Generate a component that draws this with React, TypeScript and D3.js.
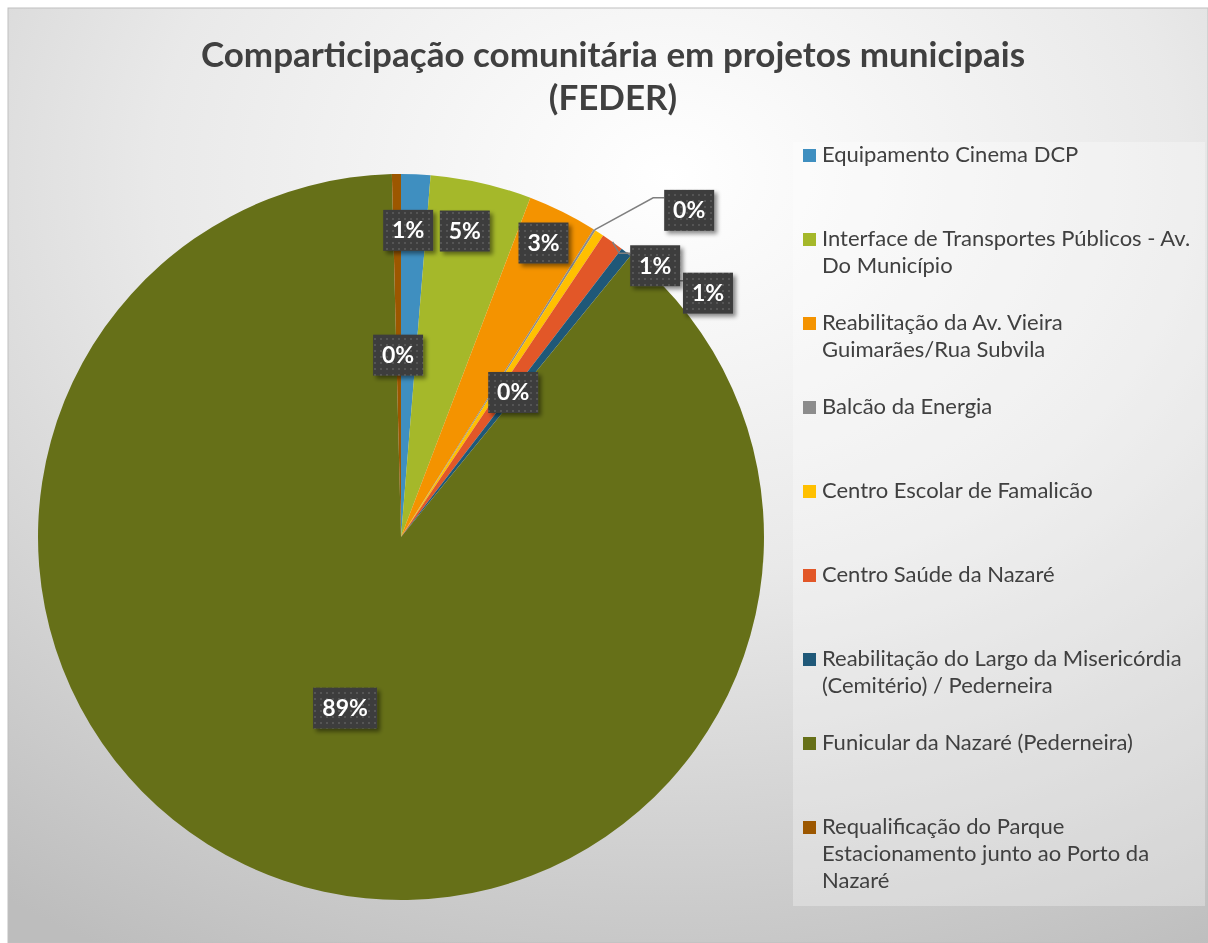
import React from 'react';
import * as d3 from 'd3';

const categories = [
  'Equipamento Cinema DCP',
  'Interface de Transportes Públicos - Av.\nDo Município',
  'Reabilitação da Av. Vieira\nGuimarães/Rua Subvila',
  'Balcão da Energia',
  'Centro Escolar de Famalicão',
  'Centro Saúde da Nazaré',
  'Reabilitação do Largo da Misericórdia\n(Cemitério) / Pederneira',
  'Funicular da Nazaré (Pederneira)',
  'Requalificação do Parque\nEstacionamento junto ao Porto da\nNazaré',
];
const shares = [1.3, 4.5, 3.1, 0.1, 0.4, 1.0, 0.5, 88.7, 0.4];
const colors = ['#3F8FC0', '#A5B82A', '#F49300', '#8C8C8C', '#FFC000', '#E25728', '#1F5878', '#667018', '#9C5700'];
const titleLines = ['Comparticipação comunitária em projetos municipais', '(FEDER)'];

// label layout: radius ratio and angular shift (deg) from slice mid; leader = outside label
const labelLayout = [
  { ratio: 0.845, shift: -1.0, leader: false },
  { ratio: 0.861, shift: -1.0, leader: false },
  { ratio: 0.9, shift: -0.6, leader: false },
  { ratio: 1.2, shift: 9.2, leader: true },
  { ratio: 0.504, shift: 4.7, leader: false },
  { ratio: 1.024, shift: 7.5, leader: true },
  { ratio: 1.08, shift: 13.2, leader: true },
  { ratio: 0.496, shift: -0.8, leader: false },
  { ratio: 0.501, shift: -0.2, leader: false },
];

const W = 1208, H = 943;
const cx = 401, cy = 537, R = 363;

export default function App() {
  const total = d3.sum(shares);
  const pie = d3.pie<number>().sort(null).value((d) => d).startAngle(0).endAngle(2 * Math.PI);
  const arcs = pie(shares);
  const arc = d3.arc<d3.PieArcDatum<number>>().innerRadius(0).outerRadius(R);
  const polar = (a: number, r: number): [number, number] => [cx + r * Math.sin(a), cy - r * Math.cos(a)];

  const labels = arcs.map((a, i) => {
    const pct = Math.round((a.data / total) * 100 + 1e-9);
    const text = `${pct}%`;
    const lay = labelLayout[i];
    const mid = (a.startAngle + a.endAngle) / 2;
    const ang = mid + (lay.shift * Math.PI) / 180;
    const [lx, ly] = polar(ang, R * lay.ratio);
    const bw = 22 + 14 * text.length;
    const bh = 41;
    const left = lx - bw / 2, top = ly - bh / 2;
    let leader: string | null = null;
    if (lay.leader) {
      const [sx, sy] = polar(mid, R);
      leader = `M${sx},${sy}L${left - 11},${top + 8}L${left},${top + 8}`;
    }
    return { text, lx, ly, bw, bh, left, top, leader };
  });

  const legendX = 803;
  const legendY0 = 162;
  const legendStep = 84;
  const lineH = 27;

  return (
    <div style={{ position: 'fixed', left: 0, top: 0 }}>
      <svg width={W} height={H} style={{ display: 'block' }}>
        <defs>
          <radialGradient id="bg" cx="55%" cy="18%" r="95%" fx="55%" fy="18%">
            <stop offset="0%" stopColor="#ffffff" />
            <stop offset="45%" stopColor="#e9e9e9" />
            <stop offset="100%" stopColor="#bdbdbd" />
          </radialGradient>
          <pattern id="dots" width="6" height="6" patternUnits="userSpaceOnUse">
            <rect width="6" height="6" fill="#3d3d3d" />
            <rect x="2" y="2" width="2" height="2" fill="#555555" />
          </pattern>
          <filter id="shadow" x="-30%" y="-30%" width="160%" height="160%">
            <feDropShadow dx="3" dy="3" stdDeviation="2" floodColor="#000" floodOpacity="0.45" />
          </filter>
        </defs>
        <rect x={8} y={8} width={W - 8} height={H - 8} fill="url(#bg)" stroke="#bfbfbf" strokeWidth={1} />
        <g fontFamily="Lato, 'Open Sans', sans-serif" fill="#404040" fontWeight="bold" fontSize={35} textAnchor="middle">
          {titleLines.map((t, i) => (
            <text key={i} x={613} y={67 + i * 43}>{t}</text>
          ))}
        </g>
        <g>
          {arcs.map((a, i) => (
            <path key={i} d={arc(a) || ''} transform={`translate(${cx},${cy})`} fill={colors[i]} />
          ))}
        </g>
        <g>
          {labels.map((l, i) => l.leader && (
            <path key={i} d={l.leader} fill="none" stroke="#7f7f7f" strokeWidth={1.5} />
          ))}
        </g>
        <g>
          {labels.map((l, i) => (
            <g key={i}>
              <rect x={l.left} y={l.top} width={l.bw} height={l.bh} fill="url(#dots)" filter="url(#shadow)" />
              <text x={l.lx} y={l.ly + 8} textAnchor="middle" fontFamily="Lato, 'Open Sans', sans-serif" fontWeight="bold" fontSize={23} fill="#ffffff">{l.text}</text>
            </g>
          ))}
        </g>
        <rect x={793} y={142} width={412} height={764} fill="#ffffff" fillOpacity={0.3} />
        <g fontFamily="Lato, 'Open Sans', sans-serif" fontSize={22} fill="#404040">
          {categories.map((c, i) => {
            const by = legendY0 + i * legendStep;
            return (
              <g key={i}>
                <rect x={legendX} y={by - 13} width={13} height={13} fill={colors[i]} />
                {c.split('\n').map((ln, j) => (
                  <text key={j} x={legendX + 19} y={by + j * lineH}>{ln}</text>
                ))}
              </g>
            );
          })}
        </g>
      </svg>
    </div>
  );
}
